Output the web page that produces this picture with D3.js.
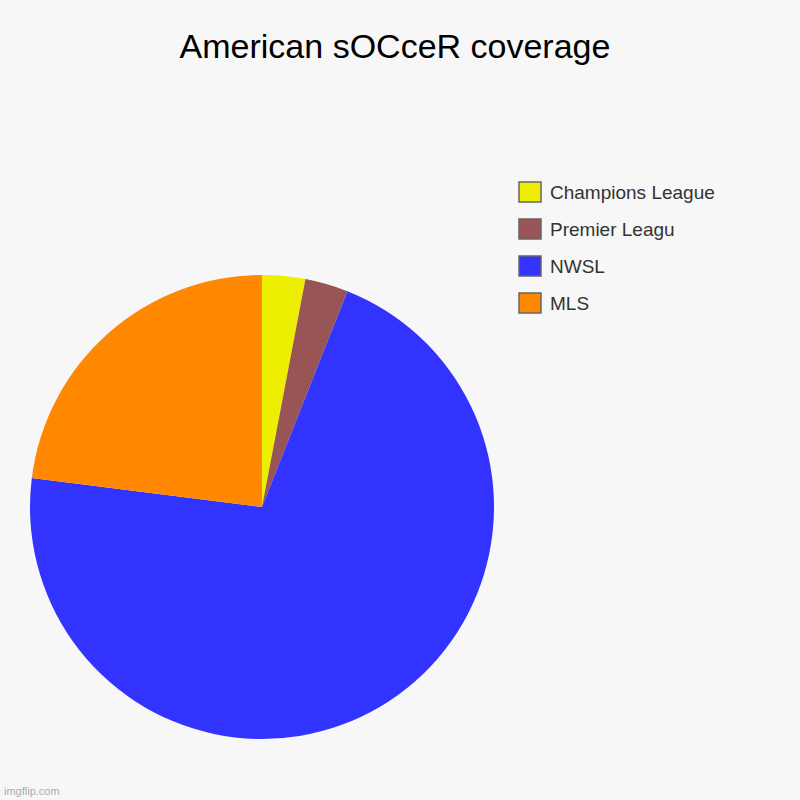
<!DOCTYPE html>
<html>
<head>
<meta charset="utf-8">
<script src="https://cdn.jsdelivr.net/npm/d3@7"></script>
<style>
  body { margin: 0; background: #f7f7f7; }
</style>
</head>
<body>
<svg id="chart" width="800" height="800"></svg>
<script>
// slices drawn clockwise from 12 o'clock
const categories = ["Champions League", "Premier Leagu", "NWSL", "MLS"];
const values = [3, 3, 71, 23];
const colors = ["#eeee00", "#995555", "#3333ff", "#ff8800"];

const svg = d3.select("#chart");
svg.append("rect").attr("width", 800).attr("height", 800).attr("fill", "#f7f7f7");

svg.append("text")
    .attr("x", 395).attr("y", 58)
    .attr("text-anchor", "middle")
    .attr("font-family", "Arial, 'Liberation Sans', sans-serif")
    .attr("font-size", 34)
    .text("American sOCceR coverage");

const pie = d3.pie().sort(null).value(d => d)(values);
const arc = d3.arc().innerRadius(0).outerRadius(232);

svg.append("g")
    .attr("transform", "translate(262,507)")
    .selectAll("path")
    .data(pie)
    .join("path")
    .attr("d", arc)
    .attr("fill", (d, i) => colors[i]);

const legend = svg.append("g").attr("font-family", "Arial, 'Liberation Sans', sans-serif");
categories.forEach((c, i) => {
    let y = 182 + i * 37;
    legend.append("rect")
        .attr("x", 519).attr("y", y).attr("width", 22).attr("height", 20)
        .attr("fill", colors[i]).attr("stroke", "#666").attr("stroke-width", 1.5);
    legend.append("text")
        .attr("x", 550).attr("y", y + 17)
        .attr("font-size", 19).attr("fill", "#333")
        .text(c);
});

svg.append("text")
    .attr("x", 4).attr("y", 795)
    .attr("font-family", "Arial, sans-serif")
    .attr("font-size", 11).attr("fill", "#aaa")
    .text("imgflip.com");
</script>
</body>
</html>
